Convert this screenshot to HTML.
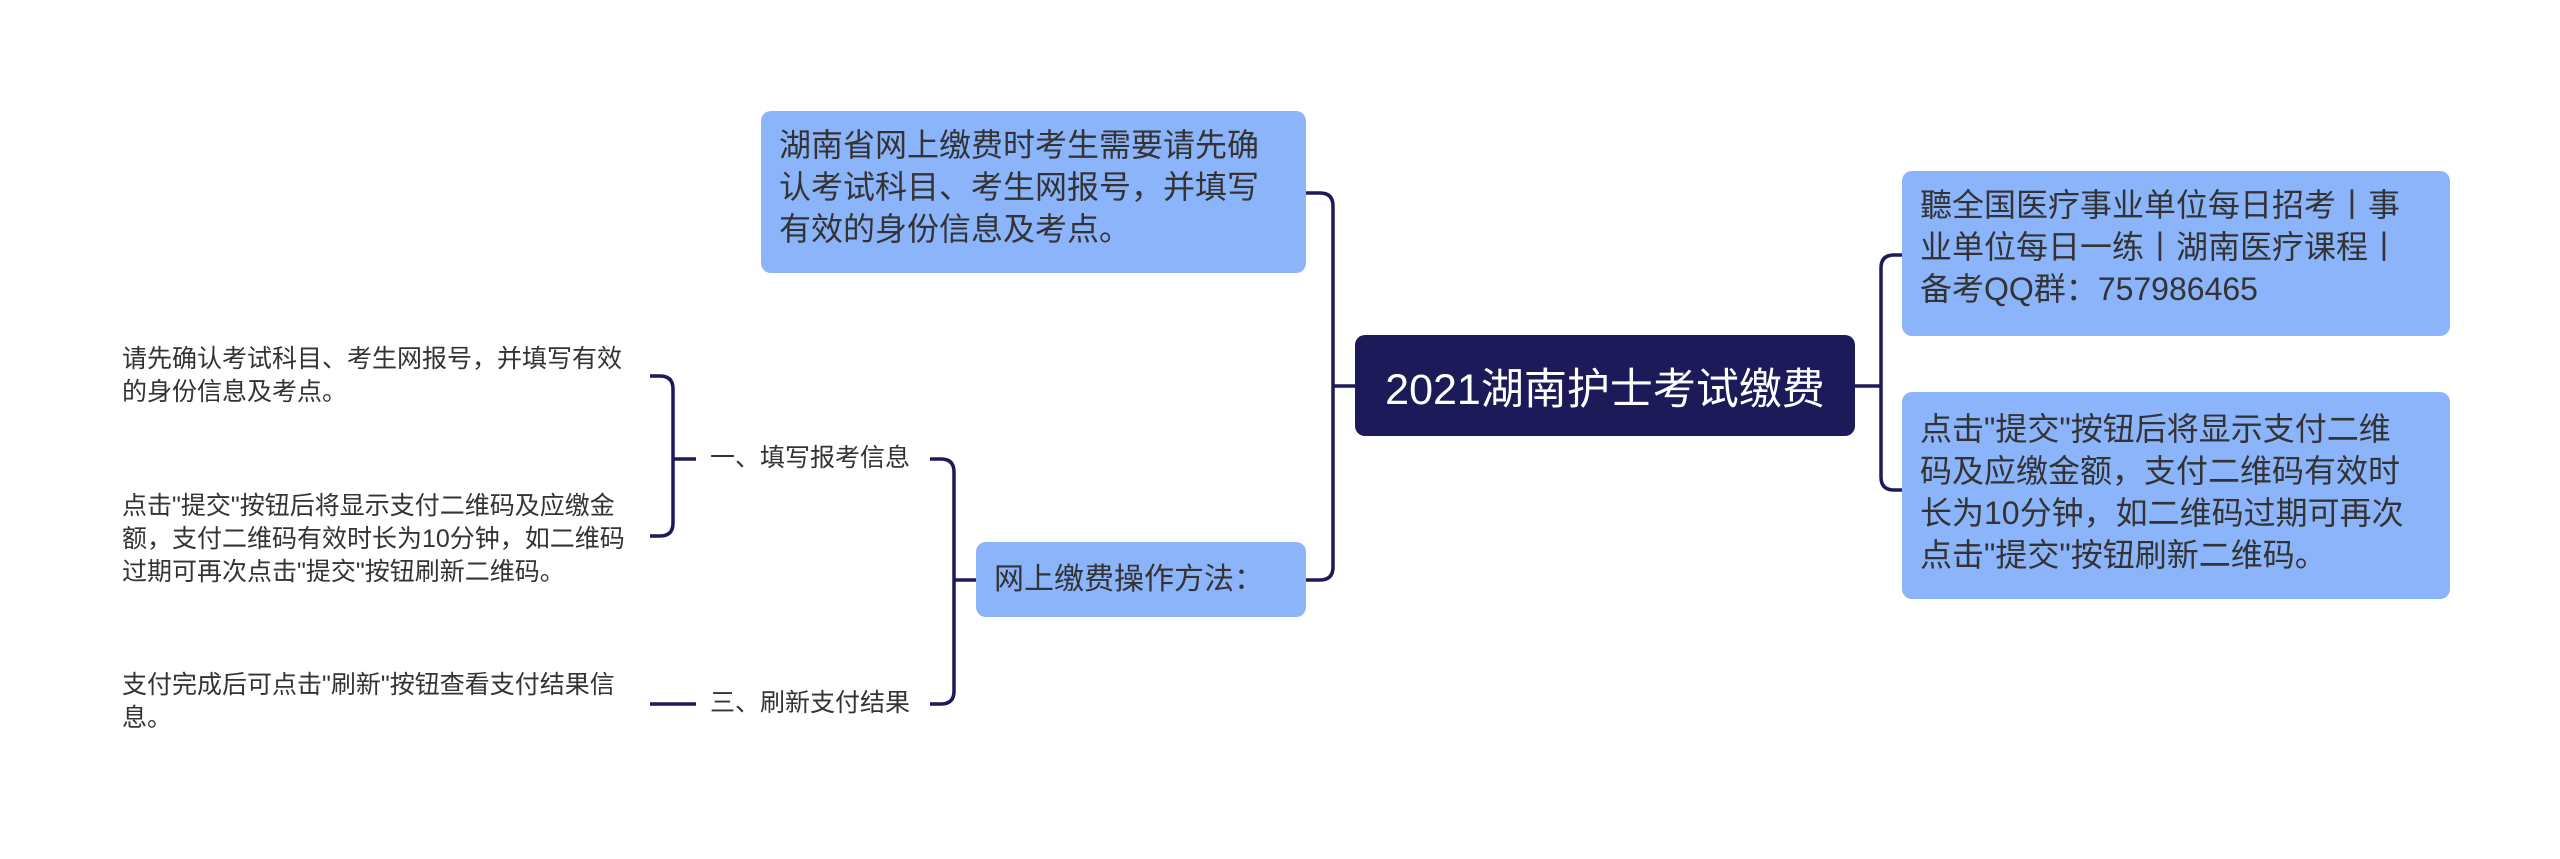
<!DOCTYPE html>
<html><head><meta charset="utf-8"><style>
html,body{margin:0;padding:0;background:#fff;}
body{width:2560px;height:859px;position:relative;overflow:hidden;font-family:"Liberation Sans","Noto Sans CJK SC",sans-serif;color:#333;}
.b{position:absolute;background:#8cb4fa;border-radius:10px;box-sizing:border-box;font-size:32px;line-height:42px;color:#333;}
.t{position:absolute;font-size:25px;line-height:33px;color:#333;}
.c{position:absolute;background:#1c1a58;color:#fff;border-radius:10px;font-size:43px;display:flex;align-items:center;justify-content:center;}
</style></head><body>
<svg width="2560" height="859" style="position:absolute;left:0;top:0" fill="none" stroke="#1c1a58" stroke-width="3.5">
<path d="M1355 386 H1333 M1306 193 H1320 Q1333 193 1333 206 V567 Q1333 580 1320 580 H1306"/>
<path d="M1855 386 H1881 M1902 255 H1894 Q1881 255 1881 268 V477 Q1881 490 1894 490 H1902"/>
<path d="M976 580 H954 M930 459 H941 Q954 459 954 472 V691 Q954 704 941 704 H930"/>
<path d="M696 459 H673 M650 376 H660 Q673 376 673 389 V523 Q673 536 660 536 H650"/>
<path d="M650 704 H696"/>
</svg>
<div class="b" style="left:761px;top:111px;width:545px;height:162px;padding:13px 18px;">湖南省网上缴费时考生需要请先确认考试科目、考生网报号，并填写有效的身份信息及考点。</div>
<div class="c" style="left:1355px;top:335px;width:500px;height:101px;">2021湖南护士考试缴费</div>
<div class="b" style="left:1902px;top:171px;width:548px;height:165px;padding:13px 48px 13px 18px;">聽全国医疗事业单位每日招考丨事业单位每日一练丨湖南医疗课程丨备考QQ群：757986465</div>
<div class="b" style="left:1902px;top:392px;width:548px;height:207px;padding:16px 36px 16px 18px;">点击"提交"按钮后将显示支付二维码及应缴金额，支付二维码有效时长为10分钟，如二维码过期可再次点击"提交"按钮刷新二维码。</div>
<div class="b" style="left:976px;top:542px;width:330px;height:75px;padding:0 18px;line-height:75px;font-size:30px;">网上缴费操作方法：</div>
<div class="t" style="left:710px;top:442px;">一、填写报考信息</div>
<div class="t" style="left:710px;top:687px;">三、刷新支付结果</div>
<div class="t" style="left:122px;top:343px;width:510px;">请先确认考试科目、考生网报号，并填写有效的身份信息及考点。</div>
<div class="t" style="left:122px;top:490px;width:510px;">点击"提交"按钮后将显示支付二维码及应缴金额，支付二维码有效时长为10分钟，如二维码过期可再次点击"提交"按钮刷新二维码。</div>
<div class="t" style="left:122px;top:669px;width:520px;">支付完成后可点击"刷新"按钮查看支付结果信息。</div>
</body></html>
